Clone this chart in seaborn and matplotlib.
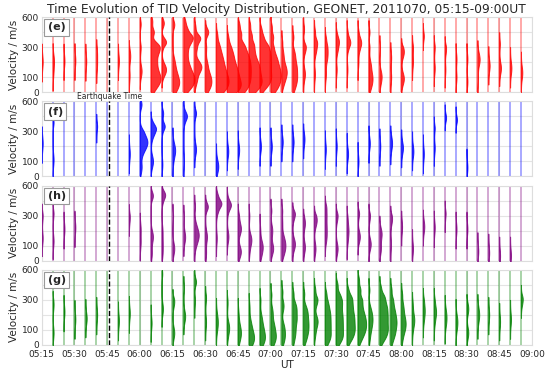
import numpy as np
import pandas as pd
import matplotlib
matplotlib.use("Agg")
import matplotlib.pyplot as plt
import seaborn as sns

TITLE = "Time Evolution of TID Velocity Distribution, GEONET, 2011070, 05:15-09:00UT"
START = "05:15"
STEP = 5                      # minutes between distributions
QUAKE = "05:46"
PANEL_LABELS = ["(e)", "(f)", "(h)", "(g)"]
PANEL_COLORS = ["red", "blue", "purple", "green"]
XTICK_LABELS = ["05:15", "05:30", "05:45", "06:00", "06:15", "06:30", "06:45", "07:00",
                "07:15", "07:30", "07:45", "08:00", "08:15", "08:30", "08:45", "09:00"]
YTICKS = [0, 100, 300, 600]
YGRID_MINOR = [200, 450]

# velocity samples (m/s) per 5-min step, written as "velocity:count"
vel_e = [
    "190:1 215:1", "200:1 220:1 130:1", "200:1 215:1", "200:1 220:1", "195:1 215:1",
    "180:1 260:1", "", "200:1 215:1", "230:1 110:1 250:1", "530:1 300:1 140:2",
    "560:1 450:2 330:3 280:4 200:3 130:3 80:4 30:2", "540:2 350:4 150:4",
    "525:2 200:2 130:3 70:5 20:3", "560:1 480:2 400:5 330:3 250:2 170:3 100:5 40:4",
    "500:1 390:5 300:2 170:6 80:2", "450:3 300:1 180:2 100:4 40:4",
    "420:1 330:2 260:3 200:4 140:5 80:7 20:6", "400:1 320:2 250:4 180:5 120:6 60:7 10:6",
    "520:1 430:2 330:3 260:4 200:5 140:5 80:5 20:4",
    "520:1 420:2 330:3 260:3 190:5 130:5 70:6 20:4",
    "480:1 400:2 320:4 250:5 180:5 110:5 50:4", "500:1 400:2 300:2 220:4 150:5 90:5 30:4",
    "350:1 250:2 170:3 120:4 60:2", "400:1 250:2 170:3 100:3 40:2", "480:1 300:3 120:2",
    "450:1 350:3 280:2 120:1", "380:1 300:2 230:2 120:1", "430:1 360:3 290:2 150:1",
    "450:1 370:3 320:3 150:1", "450:1 370:3 310:3 200:1", "450:1 300:1 180:2 100:3 40:2",
    "300:1 110:3 60:1", "230:1 100:1", "270:3 90:3", "300:1 200:1", "400:1 420:1",
    "300:1 160:1", "290:2 150:1", "100:1 220:1", "70:1 220:1", "210:3 250:1 90:1",
    "170:2 190:1", "330:1 160:3", "150:2 180:1", "120:2 150:1",
]
vel_f = [
    "210:1 230:1", "390:1 110:1", "", "", "", "345:1 355:1", "", "", "140:1 160:1",
    "560:1 580:1 300:3 230:7 170:3 60:2", "380:2 320:6 260:1 100:3", "480:2 350:4 80:1",
    "220:1 170:4 100:1", "500:1 450:5 380:1 100:1", "480:2 180:2", "", "100:1 60:4",
    "160:2 180:1", "170:2 190:1", "", "190:2 220:1", "190:2 220:1", "220:2 250:1",
    "220:2 250:1", "240:2 260:1", "", "170:1 190:1", "190:1 210:1", "140:2 170:1",
    "90:1 110:1", "210:2 240:1", "190:1 210:1", "200:2 240:2", "180:2 200:2",
    "160:2 180:1", "140:1 160:1", "330:1 190:1", "430:2 450:1", "410:2 430:1",
    "55:1 65:1", "", "", "", "", "",
]
vel_h = [
    "300:1 150:1", "320:1 130:1", "200:1 220:1", "210:1 230:1", "", "", "", "",
    "285:1 295:1", "210:1 120:1", "500:2 160:2 50:1", "510:4 440:1 200:1 120:1 50:1",
    "300:1 80:3", "290:1 150:2 170:1", "390:1 230:2 170:5 110:2", "390:3 160:2 50:1",
    "500:2 420:7 340:2 150:1", "470:1 405:5 330:1 160:2", "300:1 210:3 60:3",
    "300:1 140:4 60:1", "200:1 100:4 40:2", "350:1 200:2 80:3",
    "350:1 250:1 150:2 100:3 50:2", "315:3 110:3", "250:2 90:2", "280:3 240:1 80:2",
    "380:1 300:1 220:1 150:1", "300:2 80:2", "280:1 200:2 130:1", "320:2 160:3",
    "300:2 110:3", "180:3 80:2", "280:3 110:1", "220:1 230:1", "70:1 90:1",
    "220:2 240:1", "210:1 230:1", "310:1 330:1", "200:1 220:1", "200:1 220:1",
    "55:1 70:1", "45:1 60:1", "25:1 40:1", "25:1 40:1", "",
]
vel_g = [
    "", "270:1 80:1", "210:1 230:1", "160:1 180:1", "170:2 190:1", "190:1 210:1", "",
    "150:1 170:1", "200:1 220:1", "", "140:1 150:1", "560:1 240:2", "290:2 80:2",
    "420:1 190:3", "480:3 300:1", "320:1 150:1", "200:1 150:2 100:1",
    "280:1 120:3 60:1", "200:1 120:2 70:3 20:1", "250:1 150:2 90:3 40:4 10:2",
    "300:1 180:2 110:3 50:4 10:2", "350:1 220:2 130:3 60:4 10:2",
    "380:1 260:2 120:2 60:2 20:1", "360:1 250:3 170:3 90:2 30:1",
    "360:1 230:3 160:3 100:3 40:2", "400:1 300:3 160:3 80:1",
    "360:1 270:2 200:3 130:3 60:3 20:1", "450:1 350:2 280:3 200:3 130:3 60:3 20:1",
    "400:1 320:3 250:3 180:4 110:4 50:3", "500:1 400:2 300:3 220:3 160:4 100:4 40:2",
    "400:1 230:2 170:3 110:2 40:1", "420:1 330:3 250:4 180:4 110:4 50:3",
    "400:1 300:2 220:3 150:4 80:3 20:1", "350:1 250:2 170:3 110:3 40:1",
    "260:1 170:3 110:1", "300:1 230:2 170:1", "300:1 220:3 150:1", "230:1 180:2 130:1",
    "190:1 150:2 100:1", "240:2 80:2", "240:1 200:2 160:1", "190:1 210:1",
    "150:1 160:1", "160:1 180:1", "330:1 300:3",
]
PANEL_DATA = [vel_e, vel_f, vel_h, vel_g]

BW = 40.0          # kde bandwidth in m/s
SAMPLE_W = 0.041   # width of one sample bump, fraction of the 5-min step


def minutes(hhmm):
    h, m = hhmm.split(":")
    h0, m0 = START.split(":")
    return (int(h) * 60 + int(m)) - (int(h0) * 60 + int(m0))


def to_frame(cells):
    rows = []
    for i, cell in enumerate(cells):
        for tok in cell.split():
            v, n = tok.split(":")
            rows += [(i * STEP, float(v))] * int(n)
    df = pd.DataFrame(rows, columns=["t", "v"])
    df["side"] = "r"
    return df


def fwd(v):
    v = np.asarray(v, dtype=float)
    return np.where(v < 300, v / 100.0, 3 + (v - 300) / 150.0)


def inv(u):
    u = np.asarray(u, dtype=float)
    return np.where(u < 3, u * 100.0, 300 + (u - 3) * 150.0)


sns.set_style("whitegrid")
plt.rcParams.update({
    "font.family": ["DejaVu Sans"],
    "grid.color": "#e4e4e4",
    "grid.linewidth": 0.8,
    "axes.edgecolor": "#dddddd",
    "axes.linewidth": 0.8,
})

fig = plt.figure(figsize=(5.5, 3.79), dpi=100)
axes = fig.subplots(4, 1, sharex=True)
fig.subplots_adjust(left=0.076, right=0.967, top=0.955, bottom=0.09, hspace=0.123)

n_steps = len(vel_e)
t_all = np.arange(n_steps) * STEP
t_quake = minutes(QUAKE)
xticks = [minutes(s) for s in XTICK_LABELS]

for ax, cells, col, lab in zip(axes, PANEL_DATA, PANEL_COLORS, PANEL_LABELS):
    df = to_frame(cells)
    n_max = df.groupby("t").size().max()
    ax.vlines(t_all, 0, 600, colors=col, alpha=0.4, lw=1.2, zorder=1)
    sns.violinplot(
        data=df, x="t", y="v", hue="side", hue_order=["l", "r"],
        palette={"l": col, "r": col}, split=True, dodge=True, native_scale=True,
        inner=None, cut=3, bw_method=lambda k: BW / np.std(k.dataset, ddof=1),
        density_norm="count", width=2 * SAMPLE_W * n_max, saturation=1,
        linewidth=0.7, linecolor=col, alpha=0.8, legend=False, ax=ax, zorder=3,
    )
    ax.axvline(t_quake, color="black", ls="--", lw=1.0, zorder=4)
    ax.set_yscale("function", functions=(fwd, inv))
    ax.set_ylim(0, 600)
    ax.set_yticks(YTICKS)
    ax.set_yticklabels([str(y) for y in YTICKS])
    ax.set_yticks(YGRID_MINOR, minor=True)
    ax.yaxis.set_minor_formatter(plt.NullFormatter())
    ax.grid(True, which="both", axis="y")
    ax.grid(True, which="major", axis="x")
    ax.tick_params(labelsize=6.5, pad=2, which="both", length=0)
    ax.set_ylabel("Velocity / m/s", fontsize=7.5, labelpad=2)
    ax.set_xlabel("")
    ax.text(0.012, 0.93, lab, transform=ax.transAxes, fontsize=8, fontweight="bold",
            va="top", ha="left", zorder=6,
            bbox=dict(boxstyle="square,pad=0.3", fc="white", ec="#999999", lw=0.8))

axes[-1].set_xlim(0, minutes(XTICK_LABELS[-1]))
axes[-1].set_xticks(xticks)
axes[-1].set_xticklabels(XTICK_LABELS)
axes[-1].tick_params(axis="x", pad=3.5)
axes[-1].set_xlabel("UT", fontsize=7.5, labelpad=1)
axes[0].set_title(TITLE, fontsize=8.8, pad=3)
axes[1].text(t_quake, 600, "Earthquake Time", fontsize=5.5, ha="center", va="bottom",
             zorder=6)

fig.savefig("out.png", dpi=100)
